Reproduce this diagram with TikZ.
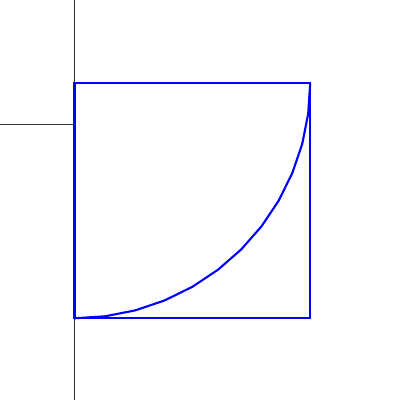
\documentclass[tikz,border=0pt]{standalone}
\usepackage{tikz}
\usetikzlibrary{calc}

\begin{document}
\begin{tikzpicture}

    \useasboundingbox (0,0) rectangle (4,4);

    \coordinate (O) at (0.745, 2.753);
    \coordinate (A) at (0.745, 3.167);
    \coordinate (B) at (0.745, 0.817);
    \coordinate (C) at (3.102, 0.817);
    \coordinate (D) at (3.102, 3.167);

    \draw[line width=0.35pt, black!80] (0.745, 0) -- (0.745, 4);
    \draw[line width=0.35pt, black!80] (0, 2.753) -- (O);

    \draw[blue, line width=0.6pt] (A) -- (B) -- (C) -- (D) -- cycle;
    \draw[blue, line width=0.6pt, samples=13, domain=-90:0]
        plot ({0.745 + 2.357*cos(\x)}, {3.167 + 2.35*sin(\x)});

\end{tikzpicture}
\end{document}
